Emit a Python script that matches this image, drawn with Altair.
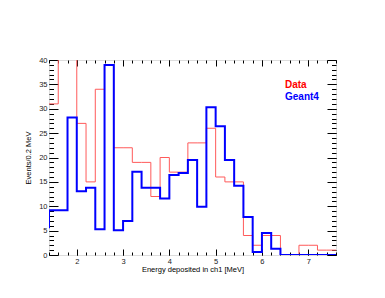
import altair as alt
import pandas as pd
import numpy as np

# ---- data ----
bin_left_edges = [round(1.4 + 0.2 * i, 1) for i in range(31)]  # 1.4 ... 7.4, bin width 0.2 MeV
upper_edge = 7.6

data_counts = [31, 45, 45, 27, 15, 34, 39, 22, 22, 19, 19, 12, 20, 17, 17, 23,
               23, 26, 16, 15, 15, 4, 2, 4, 4, 0, 0, 2, 2, 1, 1]
geant4_counts = [9.2, 9.2, 28.2, 13.1, 13.8, 5.3, 39.0, 5.1, 7.0, 17.1, 13.8, 13.8,
                 11.6, 16.4, 16.8, 19.5, 9.9, 30.3, 26.4, 19.5, 14.2, 7.8, 0.6, 4.5,
                 1.3, 0, 0, 0, 0, 0, 0]
geant4_prev_bin = (1.2, 5.7)  # bin just left of the visible range

x_major = [2, 3, 4, 5, 6, 7]
x_minor = [round(1.4 + 0.2 * i, 1) for i in range(32)]
y_major = [0, 5, 10, 15, 20, 25, 30, 35, 40]
y_minor = list(range(0, 41))

legend_labels = ["Data", "Geant4"]
legend_colors = ["#ff0000", "#0000ff"]

W, H = 287, 195
FONT = "Liberation Sans"

rows = []
for e, v in zip(bin_left_edges, data_counts):
    rows.append({"x": e, "y": v, "s": "Data"})
rows.append({"x": upper_edge, "y": data_counts[-1], "s": "Data"})
rows.append({"x": geant4_prev_bin[0], "y": geant4_prev_bin[1], "s": "Geant4"})
for e, v in zip(bin_left_edges, geant4_counts):
    rows.append({"x": e, "y": v, "s": "Geant4"})
rows.append({"x": upper_edge, "y": geant4_counts[-1], "s": "Geant4"})
df = pd.DataFrame(rows)

xs = alt.Scale(domain=[1.4, 7.6], nice=False, zero=False)
ys = alt.Scale(domain=[0, 40], nice=False, zero=False)

base = alt.Chart(df)

def tick_axis(orient, offset, values, size):
    return alt.Axis(orient=orient, offset=offset, values=values, tickSize=size,
                    labels=False, domain=False, grid=False, title=None,
                    tickColor="#000", tickWidth=1)

red = base.transform_filter(alt.datum.s == "Data").mark_line(
    interpolate="step-after", color="#ff5a5a", strokeWidth=1, clip=True
).encode(
    x=alt.X("x:Q", scale=xs, axis=alt.Axis(
        orient="bottom", values=x_major, format="d", ticks=False, domain=False, grid=False,
        labelFont=FONT, labelFontSize=7.5, labelColor="#222", labelPadding=2,
        title="Energy deposited in ch1 [MeV]", titleFont=FONT, titleFontSize=7.5,
        titleFontWeight="normal", titleColor="#000", titlePadding=1)),
    y=alt.Y("y:Q", scale=ys, axis=alt.Axis(
        orient="left", values=y_major, format="d", ticks=False, domain=False, grid=False,
        labelFont=FONT, labelFontSize=7.5, labelColor="#222", labelPadding=2,
        title="Events/0.2 MeV", titleFont=FONT, titleFontSize=7.5,
        titleFontWeight="normal", titleColor="#000", titlePadding=6)),
)

blue = base.transform_filter(alt.datum.s == "Geant4").mark_line(
    interpolate="step-after", color="#0000ff", strokeWidth=2, clip=True
).encode(
    x=alt.X("x:Q", scale=xs, axis=tick_axis("top", -H, x_minor, 3)),
    y=alt.Y("y:Q", scale=ys, axis=tick_axis("right", -W, y_minor, 4.5)),
)

inv1 = base.mark_point(opacity=0, clip=True).encode(
    x=alt.X("x:Q", scale=xs, axis=tick_axis("top", -H, x_major, 6)),
    y=alt.Y("y:Q", scale=ys, axis=tick_axis("right", -W, y_major, 9)),
)
inv2 = base.mark_point(opacity=0, clip=True).encode(
    x=alt.X("x:Q", scale=xs, axis=tick_axis("bottom", -H, x_minor, 3)),
    y=alt.Y("y:Q", scale=ys, axis=tick_axis("left", -W, y_minor, 4.5)),
)
inv3 = base.mark_point(opacity=0, clip=True).encode(
    x=alt.X("x:Q", scale=xs, axis=tick_axis("bottom", -H, x_major, 6)),
    y=alt.Y("y:Q", scale=ys, axis=tick_axis("left", -W, y_major, 9)),
)

leg_df = pd.DataFrame({"label": legend_labels, "color": legend_colors})
leg_data = alt.Chart(leg_df).transform_filter(alt.datum.label == legend_labels[0]).mark_text(
    font=FONT, fontSize=10, fontWeight="bold", align="left", baseline="alphabetic"
).encode(text="label:N", color=alt.Color("color:N", scale=None),
         x=alt.value(236), y=alt.value(28))
leg_g4 = alt.Chart(leg_df).transform_filter(alt.datum.label == legend_labels[1]).mark_text(
    font=FONT, fontSize=10, fontWeight="bold", align="left", baseline="alphabetic"
).encode(text="label:N", color=alt.Color("color:N", scale=None),
         x=alt.value(236), y=alt.value(39.5))

chart = alt.layer(red, blue, inv1, inv2, inv3, leg_data, leg_g4).resolve_axis(
    x="independent", y="independent"
).properties(
    width=W, height=H,
    autosize=alt.AutoSizeParams(type="none"),
    padding={"left": 41, "top": 52, "right": 40, "bottom": 30},
).configure_view(stroke="#000", strokeWidth=1.2).configure(background="white")

chart.save("out.html", embed_options={"renderer": "svg", "actions": False})
